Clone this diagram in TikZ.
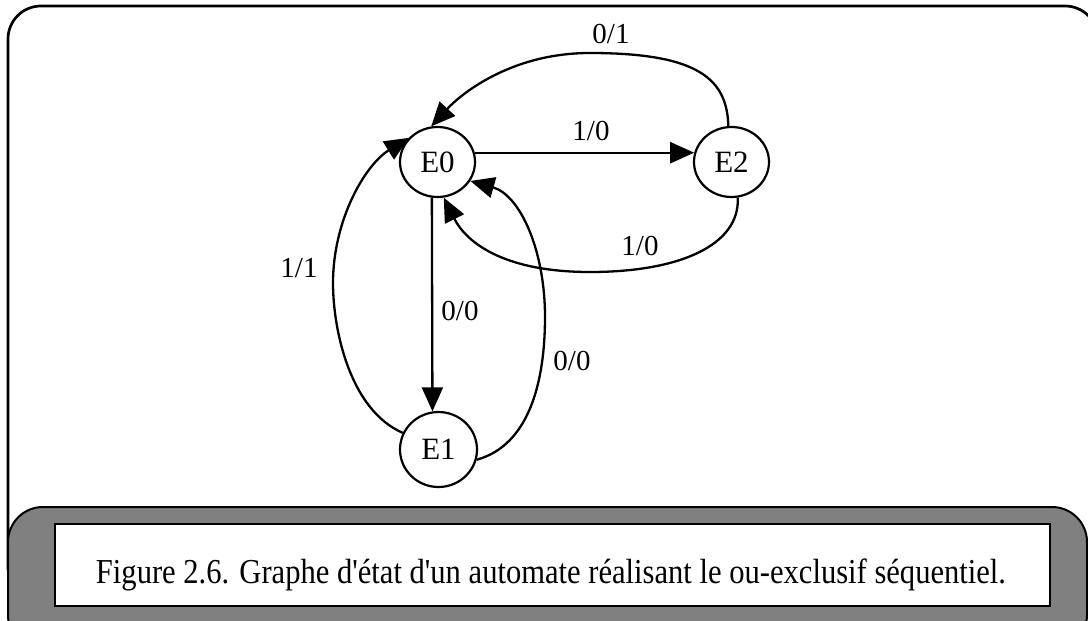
\documentclass[tikz,border=0pt]{standalone}
\usepackage{fontspec}
\setmainfont{Liberation Serif}
\usepackage{graphicx}
\usetikzlibrary{arrows.meta,shapes.geometric}
\definecolor{bandeau}{HTML}{808080}

\begin{document}
\begin{tikzpicture}[x=0.5pt,y=-0.5pt,
		etat/.style={draw,ellipse,line width=1.1pt,minimum width=37.5pt,minimum height=35pt,inner sep=0pt,font=\fontsize{15.5}{18}\selectfont},
		lbl/.style={inner sep=0pt,font=\fontsize{14.5}{17}\selectfont},
		fleche/.style={line width=1.15pt,-{Triangle[length=12pt,width=10.5pt]}}]
			\useasboundingbox (0,0) rectangle (1088,621);
			\clip (0,0) rectangle (1088,621);
			\draw [line width=1.35pt,rounded corners=16.5pt] (8,6) rectangle (1098,600);
			\draw [line width=1pt,fill=bandeau,rounded corners=17.5pt] (8,507) rectangle (1087,650);
			\draw [line width=1.2pt,fill=white] (55,524) rectangle (1050,606);
			\node [anchor=base,inner sep=0pt,font=\fontsize{17.5}{20}\selectfont] (legende) at (551,583) {\resizebox{455pt}{\height}{Figure 2.6. Graphe d\textquotesingle état d\textquotesingle un automate réalisant le ou-exclusif séquentiel.}};
			\node [etat] (E0) at (437.5,162) {E0};
			\node [etat] (E2) at (731.5,162) {E2};
			\node [etat,minimum width=38.5pt,minimum height=37.5pt] (E1) at (438.5,449.5) {E1};
			\draw [fleche] (E0.14) -- (E2.166);
			\draw [fleche] (E0.-99) -- (E1.99);
			\draw [fleche] (E2.95) .. controls (727,80) and (700,53) .. (590,53) .. controls (510,53) and (460,95) .. (E0.100);
			\draw [fleche] (E2.-80) .. controls (740,245) and (680,272) .. (590,272) .. controls (500,272) and (465,240) .. (E0.-80);
			\draw [fleche] (E1.155) .. controls (350,410) and (333,330) .. (333,283) .. controls (333,220) and (365,165) .. (E0.140);
			\draw [fleche] (E1.-15) .. controls (530,445) and (545,380) .. (545,317) .. controls (545,250) and (520,195) .. (E0.-30);
			\node [lbl] (l01) at (611,34) {0/1};
			\node [lbl] (l10a) at (591,131) {1/0};
			\node [lbl] (l10b) at (640,246) {1/0};
			\node [lbl] (l00a) at (460,311) {0/0};
			\node [lbl] (l00b) at (572,361) {0/0};
			\node [lbl] (l11) at (299,268) {1/1};
		\end{tikzpicture}
\end{document}
